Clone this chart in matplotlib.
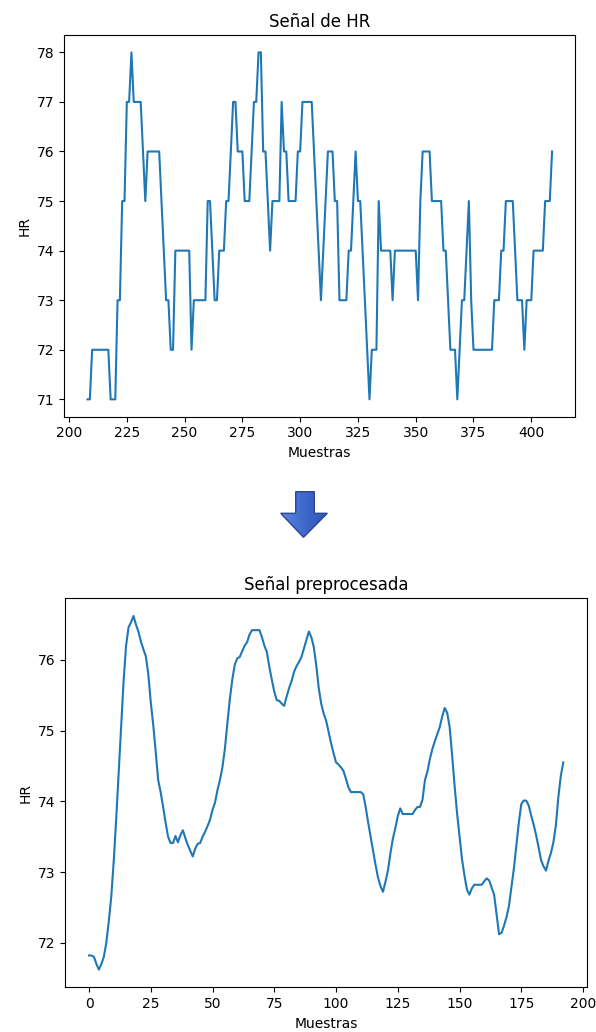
import numpy as np
import matplotlib
matplotlib.use("Agg")
import matplotlib.pyplot as plt
from matplotlib.patches import Polygon

# Raw heart-rate samples (sample index 208..409)
raw_start = 208
hr_raw = [
    71, 71, 72, 72, 72, 72, 72, 72, 72, 72,   # 208-217
    71, 71, 71, 73, 73, 75, 75, 77, 77, 78,   # 218-227
    77, 77, 77, 77, 76, 75, 76, 76, 76, 76,   # 228-237
    76, 76, 75, 74, 73, 73, 72, 72, 74, 74,   # 238-247
    74, 74, 74, 74, 74, 72, 73, 73, 73, 73,   # 248-257
    73, 73, 75, 75, 74, 73, 73, 74, 74, 74,   # 258-267
    75, 75, 76, 77, 77, 76, 76, 76, 75, 75,   # 268-277
    75, 76, 77, 77, 78, 78, 76, 76, 75, 74,   # 278-287
    75, 75, 75, 75, 77, 76, 76, 75, 75, 75,   # 288-297
    75, 76, 76, 77, 77, 77, 77, 77, 76, 75,   # 298-307
    74, 73, 74, 75, 76, 76, 76, 75, 75, 73,   # 308-317
    73, 73, 73, 74, 74, 75, 76, 75, 75, 74,   # 318-327
    73, 72, 71, 72, 72, 72, 75, 74, 74, 74,   # 328-337
    74, 74, 73, 74, 74, 74, 74, 74, 74, 74,   # 338-347
    74, 74, 74, 73, 75, 76, 76, 76, 76, 75,   # 348-357
    75, 75, 75, 75, 74, 74, 73, 72, 72, 72,   # 358-367
    71, 72, 73, 73, 74, 75, 73, 72, 72, 72,   # 368-377
    72, 72, 72, 72, 72, 72, 73, 73, 73, 74,   # 378-387
    74, 75, 75, 75, 75, 74, 73, 73, 73, 72,   # 388-397
    73, 73, 73, 74, 74, 74, 74, 74, 75, 75,   # 398-407
    75, 76,                                   # 408-409
]

# Preprocessed (smoothed) heart-rate signal, samples 0..192
hr_smooth = [
    71.82, 71.82, 71.80, 71.70, 71.62, 71.70, 71.80, 72.00, 72.30, 72.65,
    73.15, 73.75, 74.40, 75.05, 75.70, 76.20, 76.46, 76.53, 76.62, 76.50,
    76.40, 76.26, 76.15, 76.05, 75.80, 75.40, 75.08, 74.70, 74.30, 74.13,
    73.92, 73.70, 73.50, 73.41, 73.41, 73.51, 73.42, 73.52, 73.59, 73.48,
    73.38, 73.30, 73.22, 73.33, 73.40, 73.41, 73.50, 73.57, 73.65, 73.74,
    73.88, 73.98, 74.16, 74.30, 74.48, 74.74, 75.10, 75.44, 75.72, 75.93,
    76.02, 76.04, 76.12, 76.20, 76.25, 76.36, 76.42, 76.42, 76.42, 76.42,
    76.32, 76.20, 76.11, 75.90, 75.72, 75.55, 75.43, 75.42, 75.38, 75.35,
    75.48, 75.60, 75.70, 75.83, 75.91, 75.97, 76.04, 76.16, 76.28, 76.40,
    76.32, 76.18, 75.92, 75.60, 75.38, 75.24, 75.14, 74.98, 74.82, 74.68,
    74.55, 74.52, 74.48, 74.43, 74.32, 74.20, 74.13, 74.13, 74.13, 74.13,
    74.13, 74.10, 73.92, 73.70, 73.50, 73.30, 73.10, 72.92, 72.80, 72.72,
    72.86, 73.02, 73.26, 73.47, 73.62, 73.79, 73.90, 73.82, 73.82, 73.82,
    73.82, 73.82, 73.88, 73.92, 73.92, 74.02, 74.30, 74.42, 74.60, 74.74,
    74.85, 74.95, 75.05, 75.20, 75.32, 75.25, 75.05, 74.65, 74.22, 73.83,
    73.50, 73.18, 72.95, 72.75, 72.68, 72.77, 72.82, 72.82, 72.82, 72.82,
    72.87, 72.91, 72.88, 72.78, 72.68, 72.40, 72.12, 72.14, 72.24, 72.36,
    72.52, 72.78, 73.05, 73.38, 73.70, 73.96, 74.01, 74.01, 73.94, 73.80,
    73.67, 73.52, 73.35, 73.17, 73.08, 73.02, 73.16, 73.27, 73.42, 73.66,
    74.06, 74.36, 74.55,
]

title_raw = "Señal de HR"
title_smooth = "Señal preprocesada"
x_label = "Muestras"
y_label = "HR"

W, H = 596, 1032
fig = plt.figure(figsize=(W / 100, H / 100), dpi=100)
fig.patch.set_facecolor("white")


def frac(left, top, right, bottom):
    """Pixel box (from the top-left corner) -> figure fraction rect."""
    return [left / W, 1 - bottom / H, (right - left) / W, (bottom - top) / H]


# Top panel: raw signal
ax1 = fig.add_axes(frac(64.3, 35.0, 575.3, 416.7))
x_raw = np.arange(raw_start, raw_start + len(hr_raw))
ax1.plot(x_raw, hr_raw, color="#1f77b4", linewidth=1.5)
ax1.set_title(title_raw, fontsize=12)
ax1.set_xlabel(x_label, fontsize=10)
ax1.set_ylabel(y_label, fontsize=10)

# Bottom panel: preprocessed signal
ax2 = fig.add_axes(frac(65.3, 598.3, 587.0, 987.3))
x_smooth = np.arange(len(hr_smooth))
ax2.plot(x_smooth, hr_smooth, color="#1f77b4", linewidth=1.5)
ax2.set_title(title_smooth, fontsize=12)
ax2.set_xlabel(x_label, fontsize=10)
ax2.set_ylabel(y_label, fontsize=10)
ax2.set_yticks([72, 73, 74, 75, 76])

# Block arrow between the two panels, with a left-to-right blue gradient
ov = fig.add_axes([0, 0, 1, 1], zorder=5)
ov.set_xlim(0, W)
ov.set_ylim(H, 0)
ov.axis("off")
arrow_pts = [(295.7, 491.7), (314.3, 491.7), (314.3, 513.3), (327.3, 513.3),
             (303.5, 537.3), (280.7, 513.3), (295.7, 513.3)]
shape = Polygon(arrow_pts, closed=True, facecolor="none",
                edgecolor="#2a4890", linewidth=1.0, zorder=3)
ov.add_patch(shape)
grad = np.linspace(0, 1, 64).reshape(1, -1)
cmap = matplotlib.colors.LinearSegmentedColormap.from_list(
    "arrowblue", ["#5a86e2", "#3e68cc", "#2f55b4"])
img = ov.imshow(grad, cmap=cmap, extent=(280.7, 327.3, 537.3, 491.7),
                aspect="auto", zorder=2)
clip = Polygon(arrow_pts, closed=True, transform=ov.transData)
img.set_clip_path(clip)
ov.set_xlim(0, W)
ov.set_ylim(H, 0)

fig.savefig("out.png", dpi=100, facecolor="white")
